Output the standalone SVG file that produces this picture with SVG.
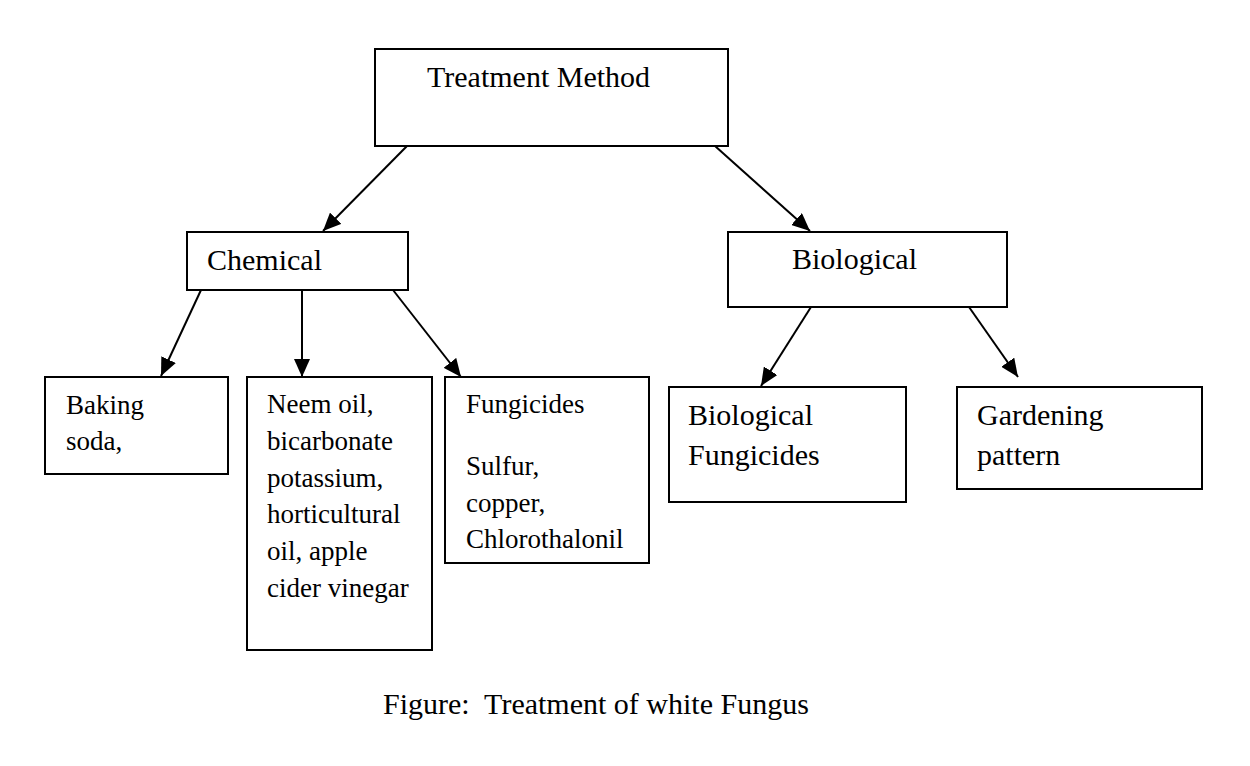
<svg xmlns="http://www.w3.org/2000/svg" width="1250" height="766" viewBox="0 0 1250 766">
<style>
.box{fill:#fff;stroke:#000;stroke-width:2}
.t30{font-family:"Liberation Serif","Times New Roman",serif;font-size:30px;fill:#000}
.t27{font-family:"Liberation Serif","Times New Roman",serif;font-size:27px;fill:#000}
.conn line{stroke:#000;stroke-width:2;fill:none}
</style>
<defs>
<marker id="arr" markerUnits="userSpaceOnUse" markerWidth="18" markerHeight="16" refX="18" refY="8" orient="auto">
<path d="M0,0 L18,8 L0,16 z" fill="#000"/>
</marker>
</defs>
<rect width="1250" height="766" fill="#fff"/>
<g id="treatment">
<rect class="box" x="375" y="49" width="353" height="97"/>
<text class="t30" x="427" y="87">Treatment Method</text>
</g>
<g id="chemical">
<rect class="box" x="187" y="232" width="221" height="58"/>
<text class="t30" x="207" y="270">Chemical</text>
</g>
<g id="biological">
<rect class="box" x="728" y="232" width="279" height="75"/>
<text class="t30" x="792" y="269">Biological</text>
</g>
<g id="baking">
<rect class="box" x="45" y="377" width="183" height="97"/>
<text class="t27" x="66" y="414">Baking</text>
<text class="t27" x="66" y="450">soda,</text>
</g>
<g id="neem">
<rect class="box" x="247" y="377" width="185" height="273"/>
<text class="t27" x="267" y="413">Neem oil,</text>
<text class="t27" x="267" y="450">bicarbonate</text>
<text class="t27" x="267" y="487">potassium,</text>
<text class="t27" x="267" y="523">horticultural</text>
<text class="t27" x="267" y="560">oil, apple</text>
<text class="t27" x="267" y="597">cider vinegar</text>
</g>
<g id="fungicides">
<rect class="box" x="445" y="377" width="204" height="186"/>
<text class="t27" x="466" y="413">Fungicides</text>
<text class="t27" x="466" y="475">Sulfur,</text>
<text class="t27" x="466" y="512">copper,</text>
<text class="t27" x="466" y="548">Chlorothalonil</text>
</g>
<g id="bio-fungicides">
<rect class="box" x="669" y="387" width="237" height="115"/>
<text class="t30" x="688" y="425">Biological</text>
<text class="t30" x="688" y="465">Fungicides</text>
</g>
<g id="gardening">
<rect class="box" x="957" y="387" width="245" height="102"/>
<text class="t30" x="977" y="425">Gardening</text>
<text class="t30" x="977" y="465">pattern</text>
</g>
<g id="connectors" class="conn">
<line x1="407" y1="146" x2="323" y2="231" marker-end="url(#arr)"/>
<line x1="715" y1="146" x2="810" y2="231" marker-end="url(#arr)"/>
<line x1="201" y1="290" x2="161" y2="376" marker-end="url(#arr)"/>
<line x1="302" y1="290" x2="302" y2="377" marker-end="url(#arr)"/>
<line x1="393" y1="290" x2="461" y2="377" marker-end="url(#arr)"/>
<line x1="811" y1="307" x2="761" y2="386" marker-end="url(#arr)"/>
<line x1="969" y1="307" x2="1018" y2="377" marker-end="url(#arr)"/>
</g>
<text class="t30" x="383" y="714" xml:space="preserve">Figure:  Treatment of white Fungus</text>
</svg>
